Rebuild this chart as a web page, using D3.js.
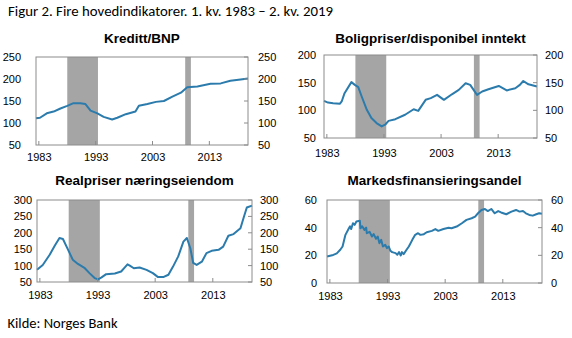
<!DOCTYPE html>
<html><head><meta charset="utf-8">
<script src="https://cdn.jsdelivr.net/npm/d3@7"></script>
<style>
html,body{margin:0;padding:0;background:#fff;}
svg{display:block;}
</style></head>
<body>
<svg id="chart" width="572" height="338"></svg>
<script>
// ---------- DATA ----------
const figTitle = "Figur 2. Fire hovedindikatorer. 1. kv. 1983 – 2. kv. 2019";
const sourceText = "Kilde: Norges Bank";
const panelTitles = ["Kreditt/BNP", "Boligpriser/disponibel inntekt", "Realpriser næringseiendom", "Markedsfinansieringsandel"];
const xTickYears = [1983, 1993, 2003, 2013];
const crisisPeriods = [[1988.0, 1993.4], [2008.75, 2009.75]];

const kredittYears = [1982.5,1983.2,1984.4,1985.6,1986.8,1988.0,1989.1,1990.3,1991.2,1992.1,1993.3,1994.4,1995.9,1996.8,1998.3,2000.0,2000.6,2002.1,2003.6,2005.0,2006.5,2008.0,2009.1,2010.9,2013.2,2015.0,2016.7,2018.5,2019.8];
const kredittValues = [110.7,112,122,126,133,139,145,145,143,128,122,114,108,112,120,126,139,143,148,150,160,169,181,183,189,190,196,199,201];
const kredittTicks = [50,100,150,200,250];

const boligYears = [1982.5,1983.2,1984.1,1985.3,1985.6,1986.1,1987.3,1987.9,1988.5,1989.1,1990.0,1990.8,1991.7,1992.6,1993.2,1993.8,1995.0,1996.7,1998.2,1999.0,2000.3,2001.2,2002.3,2003.5,2004.9,2006.1,2007.3,2008.1,2009.3,2010.2,2011.3,2013.1,2014.5,2016.0,2016.8,2017.4,2018.3,2019.8];
const boligValues = [117,114,113,112,116,131,151,146,142,125,101,86,77,71,74,81,84,92,102,99,119,122,128,119,129,137,149,146,128,134,138,144,136,140,146,153,147,143];
const boligTicks = [50,100,150,200];

const realYears = [1982.5,1983.5,1984.7,1985.6,1986.4,1987.0,1987.9,1988.7,1989.6,1990.8,1991.6,1992.5,1993.1,1993.7,1994.5,1996.0,1997.1,1997.7,1998.2,1998.6,1999.3,2000.3,2001.5,2002.6,2003.5,2004.4,2005.3,2006.1,2007.0,2007.9,2008.5,2009.1,2009.6,2010.2,2011.1,2011.9,2012.8,2014.0,2014.8,2015.7,2016.6,2017.8,2018.4,2018.9,2019.8];
const realValues = [87,102,133,161,184,181,148,118,105,92,77,62,58,64,74,76,82,94,104,100,92,94,87,77,65,65,72,97,128,173,184,153,108,102,112,138,145,148,158,191,196,214,249,277,283];
const realTicks = [50,100,150,200,250,300];

const markedYears = [1982.5,1983.4,1984.2,1984.8,1985.2,1985.7,1986.3,1986.5,1986.7,1987.0,1987.3,1987.6,1988.2,1988.3,1988.6,1989.0,1989.3,1989.4,1989.9,1990.3,1990.6,1991.0,1991.3,1991.6,1991.9,1992.2,1992.6,1992.9,1993.2,1993.5,1993.8,1994.4,1994.7,1995.0,1995.3,1995.5,1995.8,1996.3,1996.7,1997.3,1997.8,1998.3,1998.7,1999.3,1999.8,2000.7,2001.3,2001.8,2002.7,2003.6,2004.1,2005.0,2005.9,2006.7,2007.6,2008.2,2008.7,2009.3,2009.9,2010.4,2011.0,2011.6,2012.2,2012.7,2013.6,2014.5,2015.3,2015.9,2016.5,2017.0,2017.6,2018.2,2018.8,2019.3,2019.8];
const markedValues = [19.2,20,21.4,24,26.4,34.8,39.6,41,39,43.2,42,44.4,45,39.6,41,38.4,40,36,37,33.6,35.3,32,33.6,28.8,31.2,26.4,27.6,25.2,26.4,23.3,22.3,21.6,20.4,22.3,19.9,22.3,20.9,24,26.4,31.2,34.8,36,34.8,35.3,36.7,37.7,39,37.7,39,40,39.6,40.8,43.2,45.6,46.8,48,50.4,52.8,53.5,52,53.5,50.4,52,51,49.7,51.6,52.8,51.6,52,50.4,49.2,48.7,49.7,50.4,50];
const markedTicks = [0,20,40,60];

// ---------- LAYOUT ----------
const panels = [
  {title: panelTitles[0], xs: kredittYears, ys: kredittValues, ticks: kredittTicks,
   box: {l:36, r:248, t:57, b:145}, titleY: 43, leftGap: 15, rightGap: 10, xLabY: 161},
  {title: panelTitles[1], xs: boligYears, ys: boligValues, ticks: boligTicks,
   box: {l:324, r:537, t:55, b:138}, titleY: 43, leftGap: 8, rightGap: 8, xLabY: 156.5},
  {title: panelTitles[2], xs: realYears, ys: realValues, ticks: realTicks,
   box: {l:37, r:252, t:200, b:282}, titleY: 185, leftGap: 5, rightGap: 8, xLabY: 298.5},
  {title: panelTitles[3], xs: markedYears, ys: markedValues, ticks: markedTicks,
   box: {l:327, r:542, t:200, b:283}, titleY: 185, leftGap: 10, rightGap: 9, xLabY: 300}
];
const xDomain = [1982.5, 2019.8];
const lineColor = "#2b7bac";
const shadeColor = "#a5a5a5";
const frameColor = "#8c8c8c";
const axisFont = "'Liberation Sans', Arial, sans-serif";
const bodyFont = "Carlito, Calibri, Lato, 'Open Sans', sans-serif";

const svg = d3.select("#chart");

svg.append("text")
  .attr("x", 8).attr("y", 16)
  .attr("textLength", 325).attr("lengthAdjust", "spacingAndGlyphs")
  .style("font-family", bodyFont)
  .style("font-size", "14.5px").attr("fill", "#000")
  .text(figTitle);

svg.append("text")
  .attr("x", 7.5).attr("y", 328)
  .attr("textLength", 110).attr("lengthAdjust", "spacingAndGlyphs")
  .style("font-family", bodyFont)
  .style("font-size", "14.5px").attr("fill", "#000")
  .text(sourceText);

panels.forEach(p => {
  const b = p.box;
  const x = d3.scaleLinear().domain(xDomain).range([b.l, b.r]);
  const y = d3.scaleLinear().domain(d3.extent(p.ticks)).range([b.b, b.t]);
  const g = svg.append("g");

  // title
  g.append("text")
    .attr("x", (b.l + b.r) / 2).attr("y", p.titleY)
    .attr("text-anchor", "middle")
    .style("font-family", axisFont).style("font-weight", "bold").style("font-size", "13.5px")
    .text(p.title);

  // shading
  g.selectAll("rect.shade").data(crisisPeriods).join("rect")
    .attr("class", "shade")
    .attr("x", d => x(d[0])).attr("width", d => x(d[1]) - x(d[0]))
    .attr("y", b.t).attr("height", b.b - b.t)
    .attr("fill", shadeColor);

  // line
  const pts = p.xs.map((v, i) => [v, p.ys[i]]);
  g.append("path").datum(pts)
    .attr("fill", "none").attr("stroke", lineColor).attr("stroke-width", 2)
    .attr("stroke-linejoin", "round")
    .attr("d", d3.line().x(d => x(d[0])).y(d => y(d[1])));

  // frame
  g.append("rect")
    .attr("x", b.l).attr("y", b.t).attr("width", b.r - b.l).attr("height", b.b - b.t)
    .attr("fill", "none").attr("stroke", frameColor).attr("stroke-width", 1);

  // left axis labels
  const yLeft = d3.axisLeft(y).tickValues(p.ticks).tickSize(0).tickPadding(p.leftGap);
  const gl = g.append("g").attr("transform", `translate(${b.l},0)`).call(yLeft);
  gl.select(".domain").remove();

  // right axis: inner ticks + labels
  const yRight = d3.axisRight(y).tickValues(p.ticks).tickSize(0).tickPadding(p.rightGap);
  const gr = g.append("g").attr("transform", `translate(${b.r},0)`).call(yRight);
  gr.select(".domain").remove();
  g.selectAll("line.rt").data(p.ticks).join("line").attr("class", "rt")
    .attr("x1", b.r - 4).attr("x2", b.r)
    .attr("y1", d => y(d)).attr("y2", d => y(d))
    .attr("stroke", frameColor);

  // bottom axis
  const xAxis = d3.axisBottom(x).tickValues(xTickYears).tickFormat(d3.format("d"))
    .tickSize(0).tickPadding(p.xLabY - b.b - 7.8);
  const gx = g.append("g").attr("transform", `translate(0,${b.b})`).call(xAxis);
  gx.select(".domain").remove();
  g.selectAll("line.bt").data(xTickYears).join("line").attr("class", "bt")
    .attr("x1", d => x(d)).attr("x2", d => x(d))
    .attr("y1", b.b - 4).attr("y2", b.b)
    .attr("stroke", frameColor);

  g.selectAll(".tick text")
    .style("font-family", axisFont).style("font-size", "11px").attr("fill", "#000");
});
</script>
</body></html>
